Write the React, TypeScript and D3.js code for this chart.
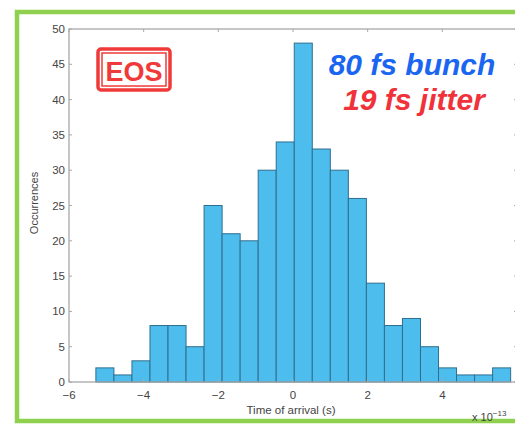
import React, { useEffect, useRef } from 'react';
import * as d3 from 'd3';

// histogram counts, left to right
const counts = [2, 1, 3, 8, 8, 5, 25, 21, 20, 30, 34, 48, 33, 30, 26, 14, 8, 9, 5, 2, 1, 1, 2];
// first and last bin edge (units of 1e-13 s)
const binRange = [-5.28, 5.83];
const xTicks = [-6, -4, -2, 0, 2, 4];
const yTicks = [0, 5, 10, 15, 20, 25, 30, 35, 40, 45, 50];

const App = () => {
  const ref = useRef<SVGSVGElement | null>(null);

  useEffect(() => {
    const svg = d3.select(ref.current);
    svg.selectAll('*').remove();

    const left = 69, right = 517, top = 29, bottom = 382;
    const x = d3.scaleLinear().domain([-6, 6]).range([left, right]);
    const y = d3.scaleLinear().domain([0, 50]).range([bottom, top]);

    // green frame
    svg.append('rect')
      .attr('x', 17).attr('y', 12)
      .attr('width', 520).attr('height', 409)
      .attr('fill', 'white')
      .attr('stroke', '#8fd14f').attr('stroke-width', 4.5);

    const w = (binRange[1] - binRange[0]) / counts.length;
    svg.append('g')
      .selectAll('rect')
      .data(counts)
      .enter()
      .append('rect')
      .attr('x', (d, i) => x(binRange[0] + i * w))
      .attr('y', (d) => y(d))
      .attr('width', x(w) - x(0))
      .attr('height', (d) => y(0) - y(d))
      .attr('fill', '#4dbdee')
      .attr('stroke', '#2f6f8e')
      .attr('stroke-width', 1);

    const axisColor = '#a8a8a8';
    const font = 'Liberation Sans, Arial, sans-serif';

    // box
    svg.append('rect')
      .attr('x', left).attr('y', top)
      .attr('width', right - left).attr('height', bottom - top)
      .attr('fill', 'none').attr('stroke', axisColor).attr('stroke-width', 1.3);

    const g = svg.append('g');
    xTicks.forEach((t) => {
      g.append('line').attr('x1', x(t)).attr('x2', x(t)).attr('y1', bottom).attr('y2', bottom - 3).attr('stroke', axisColor);
      g.append('line').attr('x1', x(t)).attr('x2', x(t)).attr('y1', top).attr('y2', top + 3).attr('stroke', axisColor);
      g.append('text')
        .attr('x', x(t)).attr('y', bottom + 17)
        .attr('text-anchor', 'middle')
        .style('font-family', font).style('font-size', '11.5px')
        .attr('fill', '#444')
        .text(t < 0 ? '\u2212' + Math.abs(t) : String(t));
    });
    yTicks.forEach((t) => {
      g.append('line').attr('x1', left).attr('x2', left + 3).attr('y1', y(t)).attr('y2', y(t)).attr('stroke', axisColor);
      g.append('line').attr('x1', right).attr('x2', right - 3).attr('y1', y(t)).attr('y2', y(t)).attr('stroke', axisColor);
      g.append('text')
        .attr('x', left - 4).attr('y', y(t) + 4)
        .attr('text-anchor', 'end')
        .style('font-family', font).style('font-size', '11.5px')
        .attr('fill', '#444')
        .text(String(t));
    });

    // axis labels
    svg.append('text')
      .attr('transform', `translate(38, 203) rotate(-90)`)
      .attr('text-anchor', 'middle')
      .style('font-family', font).style('font-size', '11px')
      .attr('fill', '#444')
      .text('Occurrences');
    svg.append('text')
      .attr('x', 291).attr('y', 414)
      .attr('text-anchor', 'middle')
      .style('font-family', font).style('font-size', '11.5px')
      .attr('fill', '#444')
      .text('Time of arrival (s)');
    const ex = svg.append('text')
      .attr('x', 472).attr('y', 421)
      .style('font-family', font).style('font-size', '11px')
      .attr('fill', '#444');
    ex.append('tspan').text('x 10');
    ex.append('tspan').attr('dy', -5).style('font-size', '8px').text('\u221213');

    // EOS label
    svg.append('rect')
      .attr('x', 98).attr('y', 49).attr('width', 72).attr('height', 41)
      .attr('rx', 3).attr('fill', 'white')
      .attr('stroke', '#f03a3a').attr('stroke-width', 3.5);
    svg.append('rect')
      .attr('x', 102).attr('y', 53).attr('width', 64).attr('height', 33)
      .attr('fill', 'none')
      .attr('stroke', '#f03a3a').attr('stroke-width', 1.5);
    svg.append('text')
      .attr('x', 134).attr('y', 81)
      .attr('text-anchor', 'middle')
      .style('font-family', font).style('font-size', '27px').style('font-weight', 'bold')
      .attr('fill', '#f03a3a')
      .text('EOS');

    svg.append('text')
      .attr('x', 412).attr('y', 75)
      .attr('text-anchor', 'middle')
      .style('font-family', font).style('font-size', '30px')
      .style('font-weight', 'bold').style('font-style', 'italic')
      .attr('fill', '#1a66f0')
      .text('80 fs bunch');
    svg.append('text')
      .attr('x', 414).attr('y', 110)
      .attr('text-anchor', 'middle')
      .style('font-family', font).style('font-size', '30px')
      .style('font-weight', 'bold').style('font-style', 'italic')
      .attr('fill', '#f0333a')
      .text('19 fs jitter');
  }, []);

  return (
    <svg
      ref={ref}
      width={515}
      height={426}
      style={{ position: 'absolute', left: 0, top: 0, background: 'white' }}
    />
  );
};

export default App;
